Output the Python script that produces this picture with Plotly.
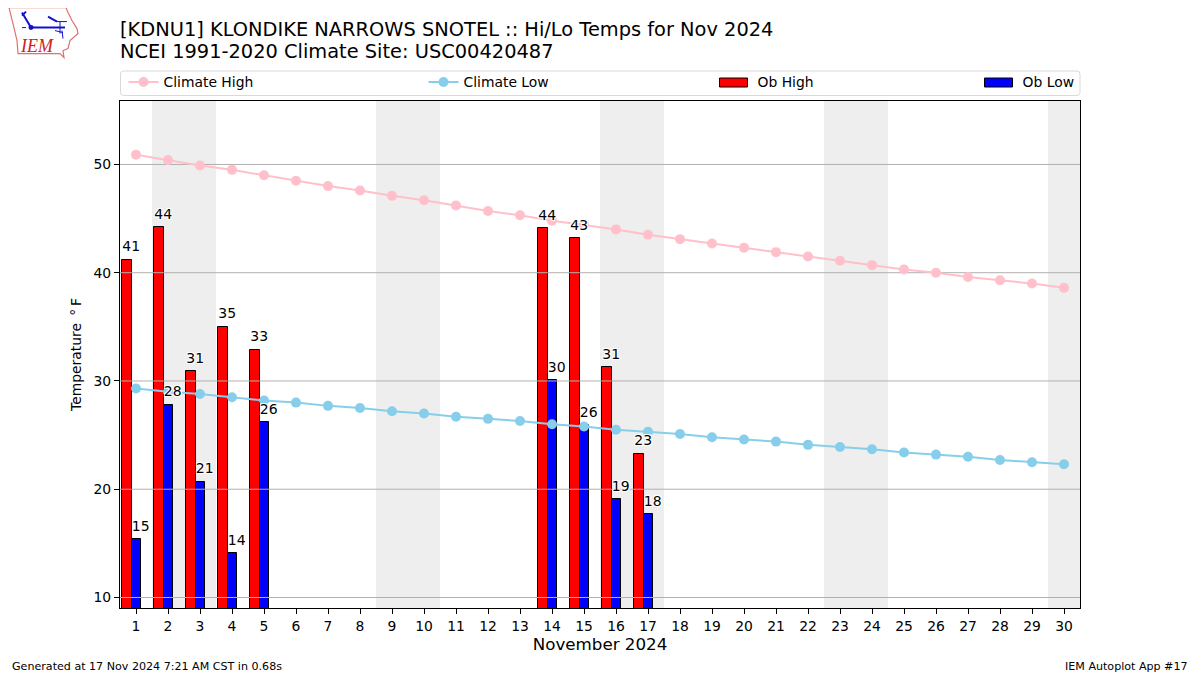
import plotly.graph_objects as go

days = list(range(1, 31))
ob_high = [41.2, 44.2, 30.9, 35.0, 32.9, None, None, None, None, None, None, None, None, 44.1, 43.2, 31.3, 23.3] + [None] * 13
ob_low = [15.4, 27.8, 20.7, 14.1, 26.2, None, None, None, None, None, None, None, None, 30.1, 25.9, 19.1, 17.7] + [None] * 13
climate_high = [50.9, 50.4, 49.9, 49.5, 49.0, 48.5, 48.0, 47.6, 47.1, 46.7, 46.2, 45.7, 45.3, 44.8, 44.4,
                44.0, 43.5, 43.1, 42.7, 42.3, 41.9, 41.5, 41.1, 40.7, 40.3, 40.0, 39.6, 39.3, 39.0, 38.6]
climate_low = [29.3, 29.0, 28.8, 28.5, 28.2, 28.0, 27.7, 27.5, 27.2, 27.0, 26.7, 26.5, 26.3, 26.0, 25.8,
               25.5, 25.3, 25.1, 24.8, 24.6, 24.4, 24.1, 23.9, 23.7, 23.4, 23.2, 23.0, 22.7, 22.5, 22.3]
y_ticks = [10, 20, 30, 40, 50]
weekends = [(1.5, 3.5), (8.5, 10.5), (15.5, 17.5), (22.5, 24.5), (29.5, 30.5)]

# The page has an 8 px body margin, so the figure is 1192x667 and page pixels are offset by 8.
PAGE = 8
W, H = 1200 - PAGE, 675 - PAGE
L, R, T, B = 120.0, 1080.0, 100.5, 608.0
FONT = "DejaVu Sans"
HALO = "-1px -1px 0 #fff,1px -1px 0 #fff,-1px 1px 0 #fff,1px 1px 0 #fff"
LABEL_GAP = 0.45
HIGH_OFFSET, LOW_OFFSET = -0.43, -0.13
RED, BLUE = "#ff0000", "#0000ff"


def px(x):
    return (x - L) / (R - L)


def py(y):
    return (B - y) / (B - T)


def logo_path(points, close=True):
    s = "M" + " L".join(f"{px(a):.5f},{py(b):.5f}" for a, b in points)
    return s + (" Z" if close else "")


fig = go.Figure()

fig.add_bar(x=days, y=ob_high, width=0.3, offset=HIGH_OFFSET, name="Ob High", marker=dict(color=RED, line=dict(color="black", width=1)), showlegend=False, hoverinfo="skip")
fig.add_bar(x=days, y=ob_low, width=0.3, offset=LOW_OFFSET, name="Ob Low", marker=dict(color=BLUE, line=dict(color="black", width=1)), showlegend=False, hoverinfo="skip")

# grid sits above the bars but below the climate lines
for t in y_ticks:
    fig.add_scatter(x=[0.5, 30.5], y=[t, t], mode="lines", line=dict(color="#b0b0b0", width=1), showlegend=False, hoverinfo="skip")

fig.add_scatter(x=days, y=climate_high, mode="lines+markers", name="Climate High", line=dict(color="#ffc0cb", width=2), marker=dict(color="#ffc0cb", size=10), legend="legend")
fig.add_scatter(x=days, y=climate_low, mode="lines+markers", name="Climate Low", line=dict(color="#87ceeb", width=2), marker=dict(color="#87ceeb", size=10), legend="legend2")

# Legend entries for the bars: Plotly's bar key is a fixed square, so the wide keys are shapes beside these labels.
fig.add_scatter(x=[None], y=[None], mode="lines", name="Ob High", line=dict(color="rgba(0,0,0,0)", width=1), legend="legend3", hoverinfo="skip")
fig.add_scatter(x=[None], y=[None], mode="lines", name="Ob Low", line=dict(color="rgba(0,0,0,0)", width=1), legend="legend4", hoverinfo="skip")

for vals, off in ((ob_high, HIGH_OFFSET), (ob_low, LOW_OFFSET)):
    xs = [d + off for d, v in zip(days, vals) if v is not None]
    ys = [v + LABEL_GAP for v in vals if v is not None]
    labels = [f"{v:.0f}" for v in vals if v is not None]
    fig.add_scatter(x=xs, y=ys, mode="text", text=labels, textposition="top right",
                    textfont=dict(family=FONT, size=14, color="black", shadow=HALO), showlegend=False, hoverinfo="skip", cliponaxis=False)

shapes = [dict(type="rect", xref="x", yref="paper", x0=a, x1=b, y0=0, y1=1, fillcolor="#eeeeee", line_width=0, layer="below") for a, b in weekends]

# rounded legend frame
x0, x1, y0, y1, r = 120.5, 1080, 70.5, 95, 3
shapes.append(dict(type="path", xref="paper", yref="paper", layer="below",
                   path=f"M{px(x0+r)},{py(y0)} L{px(x1-r)},{py(y0)} Q{px(x1)},{py(y0)} {px(x1)},{py(y0+r)} L{px(x1)},{py(y1-r)} Q{px(x1)},{py(y1)} {px(x1-r)},{py(y1)} L{px(x0+r)},{py(y1)} Q{px(x0)},{py(y1)} {px(x0)},{py(y1-r)} L{px(x0)},{py(y0+r)} Q{px(x0)},{py(y0)} {px(x0+r)},{py(y0)} Z",
                   line=dict(color="#d9d9d9", width=1), fillcolor="white"))

# wide bar keys in the legend row
for left, color in ((719.5, RED), (984.5, BLUE)):
    shapes.append(dict(type="rect", xref="paper", yref="paper", x0=px(left), x1=px(left + 28), y0=py(86.5), y1=py(77.5), fillcolor=color, line=dict(color="black", width=1)))

# IEM logo: state outline and station glyph
outline = [(9, 7), (66, 7), (68, 12), (72, 20), (77, 28), (78, 33), (70, 40), (68, 48), (63, 50), (64, 57), (60, 53), (18, 53), (17, 40), (13, 23)]
shapes.append(dict(type="path", xref="paper", yref="paper", path=logo_path(outline), line=dict(color="#e07070", width=1.2), fillcolor="white"))
glyph = {
    2: [[(31, 27), (65, 27)], [(22, 12), (31, 27)], [(22, 15), (26, 11)], [(48, 16), (57, 21)]],
    1: [[(57, 21), (67, 21)], [(60, 21), (60, 33)], [(55, 30), (63, 32)], [(62, 30), (63, 38)], [(22, 27), (26, 27)]],
}
for w, lines in glyph.items():
    for pts in lines:
        shapes.append(dict(type="path", xref="paper", yref="paper", path=logo_path(pts, close=False), line=dict(color="#1010d0", width=w)))
shapes.append(dict(type="circle", xref="paper", yref="paper", x0=px(28.5), x1=px(33.5), y0=py(29.5), y1=py(24.5), fillcolor="#1010d0", line_width=0))

annotations = [
    dict(text="[KDNU1] KLONDIKE NARROWS SNOTEL :: Hi/Lo Temps for Nov 2024", xref="paper", yref="paper", x=px(118), y=py(29), xanchor="left", yanchor="middle", align="left", showarrow=False, font=dict(family=FONT, size=19.4, color="black")),
    dict(text="NCEI 1991-2020 Climate Site: USC00420487", xref="paper", yref="paper", x=px(118), y=py(51), xanchor="left", yanchor="middle", align="left", showarrow=False, font=dict(family=FONT, size=19.4, color="black")),
    dict(text="Generated at 17 Nov 2024 7:21 AM CST in 0.68s", xref="paper", yref="paper", x=px(10), y=py(666.5), xanchor="left", yanchor="middle", showarrow=False, font=dict(family=FONT, size=11.1, color="black")),
    dict(text="IEM Autoplot App #17", xref="paper", yref="paper", x=px(1190), y=py(666.5), xanchor="right", yanchor="middle", showarrow=False, font=dict(family=FONT, size=11.1, color="black")),
    dict(text="<i>IEM</i>", xref="paper", yref="paper", x=px(37), y=py(45), xanchor="center", yanchor="middle", showarrow=False, font=dict(family="Liberation Serif", size=18, color="#d02020")),
]

legend_common = dict(orientation="v", bgcolor="rgba(0,0,0,0)", borderwidth=0, font=dict(family=FONT, size=13.9, color="black"), xanchor="left", yanchor="middle", y=py(82), itemwidth=30, traceorder="normal", tracegroupgap=0)

fig.update_layout(
    width=W, height=H, margin=dict(l=L - PAGE, r=W - (R - PAGE), t=T - PAGE, b=H - (B - PAGE), autoexpand=False, pad=0),
    paper_bgcolor="white", plot_bgcolor="white", barmode="overlay", bargap=0, hovermode=False,
    font=dict(family=FONT, size=13.9, color="black"),
    xaxis=dict(range=[0.5, 30.5], tickmode="array", tickvals=days, ticktext=[str(d) for d in days], ticks="outside", ticklen=5, tickwidth=1, tickcolor="black", showgrid=False, zeroline=False, showline=True, linecolor="black", linewidth=1, mirror=True, title=dict(text="November 2024", font=dict(family=FONT, size=16.7), standoff=5), tickfont=dict(family=FONT, size=13.9)),
    yaxis=dict(range=[9.03, 55.86], tickmode="array", tickvals=y_ticks, ticks="outside", ticklen=5, tickwidth=1, tickcolor="black", showgrid=False, zeroline=False, showline=True, linecolor="black", linewidth=1, mirror=True, title=dict(text="Temperature \u2009°\u2009F", font=dict(family=FONT, size=13.9), standoff=8), tickfont=dict(family=FONT, size=13.9)),
    shapes=shapes, annotations=annotations,
    legend=dict(x=px(123.5), **legend_common),
    legend2=dict(x=px(423.5), **legend_common),
    legend3=dict(x=px(717.5), **legend_common),
    legend4=dict(x=px(982.5), **legend_common),
)

fig.write_html("out.html")
